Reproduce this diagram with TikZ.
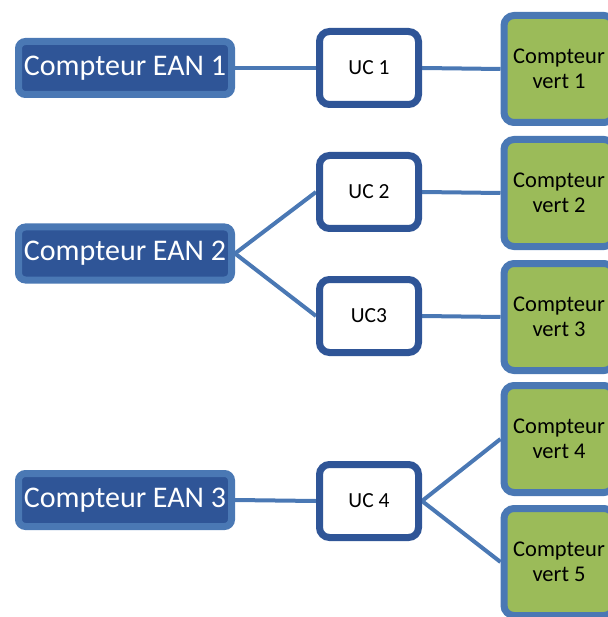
\documentclass[tikz,border=0pt]{standalone}
\usepackage{fontspec}
\setmainfont{Carlito}
\usetikzlibrary{backgrounds,shadows}
\definecolor{eanfill}{HTML}{2F5597}
\definecolor{eanline}{HTML}{4A78B4}
\definecolor{ucline}{HTML}{2F5597}
\definecolor{vertfill}{HTML}{9BBB59}
\definecolor{link}{HTML}{4A78B4}
\tikzset{
  ean/.style={draw=eanline,fill=eanfill,line width=7pt,rounded corners=7pt,minimum width=213pt,minimum height=53pt,inner sep=0pt,text=white,font=\fontsize{30}{32}\selectfont,drop shadow={opacity=0.25,shadow xshift=1pt,shadow yshift=-3pt}},
  ucbox/.style={draw=ucline,fill=white,line width=7pt,rounded corners=10pt,minimum width=99pt,minimum height=73pt,inner sep=0pt,font=\fontsize{21.5}{24}\selectfont,drop shadow={opacity=0.25,shadow xshift=1pt,shadow yshift=-3pt}},
  vert/.style={draw=eanline,fill=vertfill,line width=7pt,rounded corners=10pt,minimum width=110pt,minimum height=107pt,inner sep=0pt,align=center,font=\fontsize{22.5}{25}\selectfont,drop shadow={opacity=0.25,shadow xshift=1pt,shadow yshift=-3pt}},
  link/.style={draw=link,line width=4pt}
}
\begin{document}
\begin{tikzpicture}[x=1pt,y=-1pt]
  \useasboundingbox (0,0) rectangle (607,617);
  \node[ean] (ean1) at (125,68) {Compteur EAN 1};
  \node[ean] (ean2) at (125,253.5) {Compteur EAN 2};
  \node[ean] (ean3) at (125,500) {Compteur EAN 3};
  \node[ucbox] (uc1) at (369,68) {UC 1}; \node[ucbox] (uc2) at (369,192) {UC 2};
  \node[ucbox] (uc3) at (369,316) {UC3}; \node[ucbox] (uc4) at (369,501) {UC 4};
  \node[vert] (v1) at (559,69) {Compteur\\vert 1}; \node[vert] (v2) at (559,193) {Compteur\\vert 2};
  \node[vert] (v3) at (559,317) {Compteur\\vert 3}; \node[vert] (v4) at (559,439) {Compteur\\vert 4};
  \node[vert] (v5) at (559,562) {Compteur\\vert 5};
  \begin{scope}[on background layer]
    \draw[link] (ean1.east) -- (uc1.west); \draw[link] (uc1.east) -- (v1.west);
    \draw[link] (ean2.east) -- (uc2.west); \draw[link] (ean2.east) -- (uc3.west);
    \draw[link] (uc2.east) -- (v2.west); \draw[link] (uc3.east) -- (v3.west);
    \draw[link] (ean3.east) -- (uc4.west); \draw[link] (uc4.east) -- (v4.west);
    \draw[link] (uc4.east) -- (v5.west);
  \end{scope}
\end{tikzpicture}
\end{document}
